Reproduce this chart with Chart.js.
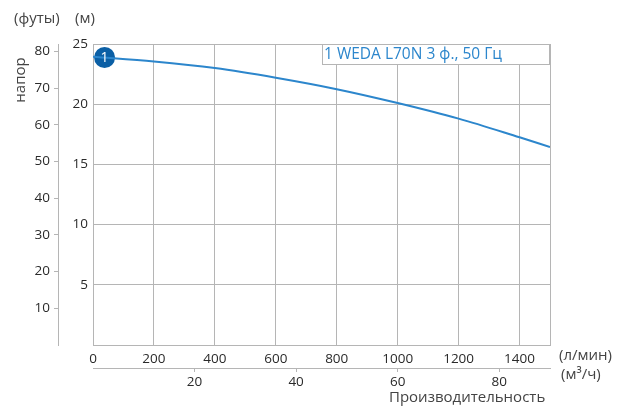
<!DOCTYPE html>
<html>
<head>
<meta charset="utf-8">
<script src="https://cdn.jsdelivr.net/npm/chart.js@4.4.1/dist/chart.umd.min.js"></script>
<style>
  html, body { margin: 0; padding: 0; background: #fff; }
  #wrap { width: 617px; height: 407px; position: relative; }
</style>
</head>
<body>
<div id="wrap"><canvas id="pumpChart" width="617" height="407"></canvas></div>
<script>
// data
const flowLpm = [0, 200, 400, 600, 800, 1000, 1200, 1400, 1500];
const headM = [23.95, 23.55, 23.0, 22.2, 21.25, 20.1, 18.8, 17.25, 16.45];
const markerFlow = [38];
const markerHead = [23.88];
const markerLabel = "1";
const legendText = "1 WEDA L70N 3 ф., 50 Гц";
const mTicks = [5, 10, 15, 20, 25];
const ftTicks = [10, 20, 30, 40, 50, 60, 70, 80];
const m3hTicks = [20, 40, 60, 80];

const FT_PER_M = 3.28084;
const gridGray = "#b5b5b5";
const textGray = "#2a2a2a";
const blue = "#2c86cc";
const fontFamily = "'Open Sans', 'Noto Sans', sans-serif";

const curve = flowLpm.map((f, i) => ({ x: f, y: headM[i] }));
const marker = markerFlow.map((f, i) => ({ x: f, y: markerHead[i] }));

// fixed box sizes so the plot lands where it does in the picture
function fixWidth(w) { return (scale) => { scale.width = w; }; }
function fixHeight(h) { return (scale) => { scale.height = h; }; }

const extrasPlugin = {
  id: "extras",
  afterDraw(chart) {
    const ctx = chart.ctx;
    ctx.save();

    // legend box
    ctx.fillStyle = "#fff";
    ctx.strokeStyle = gridGray;
    ctx.lineWidth = 1;
    ctx.fillRect(322.5, 44.5, 227, 20);
    ctx.strokeRect(322.5, 44.5, 227, 20);
    ctx.fillStyle = blue;
    ctx.font = "15.5px " + fontFamily;
    ctx.textBaseline = "middle";
    ctx.textAlign = "left";
    ctx.fillText(legendText, 324, 55);

    // marker number
    const pt = chart.getDatasetMeta(1).data[0];
    ctx.fillStyle = "#fff";
    ctx.font = "14px " + fontFamily;
    ctx.textAlign = "center";
    ctx.fillText(markerLabel, pt.x, pt.y + 0.5);

    // axis titles
    ctx.fillStyle = "#444";
    ctx.font = "15px " + fontFamily;
    ctx.textAlign = "left";
    ctx.fillText("(футы)", 14, 19);
    ctx.fillText("(м)", 75, 19);
    ctx.fillText("(л/мин)", 559, 356);
    ctx.fillText("(м³/ч)", 561, 375);
    ctx.fillText("Производительность", 389, 398);

    ctx.translate(21, 80);
    ctx.rotate(-Math.PI / 2);
    ctx.textAlign = "center";
    ctx.fillText("напор", 0, 0);
    ctx.restore();
  }
};

new Chart(document.getElementById("pumpChart"), {
  type: "line",
  data: {
    datasets: [
      {
        data: curve,
        borderColor: blue,
        borderWidth: 2,
        pointRadius: 0,
        cubicInterpolationMode: "monotone",
        xAxisID: "x",
        yAxisID: "y"
      },
      {
        data: marker,
        showLine: false,
        pointRadius: 10.5,
        pointBackgroundColor: "#0b5fa5",
        pointBorderColor: "#0b5fa5",
        pointBorderWidth: 0,
        xAxisID: "x",
        yAxisID: "y"
      }
    ]
  },
  options: {
    responsive: false,
    animation: false,
    layout: { padding: { top: 44, right: 67, bottom: 17, left: 0 } },
    plugins: { legend: { display: false }, tooltip: { enabled: false } },
    scales: {
      x: {
        type: "linear",
        position: "bottom",
        weight: 0,
        min: 0,
        max: 1500,
        afterBuildTicks: (s) => { s.ticks = flowLpm.filter(v => v % 200 === 0).map(v => ({ value: v })).concat([{ value: 1500 }]); },
        afterFit: fixHeight(23),
        grid: { color: gridGray, drawTicks: false },
        border: { color: gridGray },
        ticks: {
          padding: 6,
          color: textGray,
          font: { size: 13.5, family: fontFamily },
          maxRotation: 0,
          callback: (v) => (v === 1500 ? "" : v)
        }
      },
      x2: {
        type: "linear",
        position: "bottom",
        weight: 1,
        min: 0,
        max: 90,
        afterBuildTicks: (s) => { s.ticks = m3hTicks.map(v => ({ value: v })); },
        afterFit: fixHeight(22),
        grid: { drawOnChartArea: false, color: gridGray, tickLength: 4 },
        border: { color: gridGray },
        ticks: { padding: 2, color: textGray, font: { size: 13.5, family: fontFamily }, maxRotation: 0 }
      },
      y: {
        type: "linear",
        position: "left",
        weight: 0,
        min: 0,
        max: 25,
        afterBuildTicks: (s) => { s.ticks = [0].concat(mTicks).map(v => ({ value: v })); },
        afterFit: fixWidth(35),
        grid: { color: gridGray, drawTicks: false },
        border: { color: gridGray },
        ticks: {
          padding: 5,
          color: textGray,
          font: { size: 13.5, family: fontFamily },
          callback: (v) => (v === 0 ? "" : v)
        }
      },
      y2: {
        type: "linear",
        position: "left",
        weight: 1,
        min: 0,
        max: 25 * FT_PER_M,
        afterBuildTicks: (s) => { s.ticks = ftTicks.map(v => ({ value: v })); },
        afterFit: fixWidth(58),
        grid: { drawOnChartArea: false, color: gridGray, tickLength: 4 },
        border: { color: gridGray },
        ticks: { padding: 4, color: textGray, font: { size: 13.5, family: fontFamily } }
      }
    }
  },
  plugins: [extrasPlugin]
});
</script>
</body>
</html>
